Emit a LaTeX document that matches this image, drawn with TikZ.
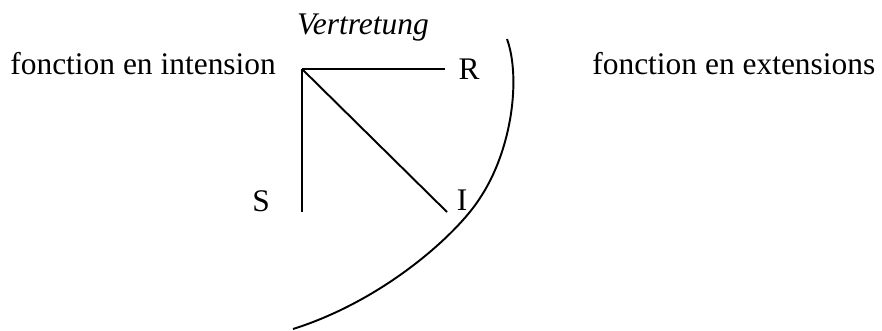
\documentclass[tikz,border=0pt]{standalone}
\usepackage{fontspec}
\setmainfont{Liberation Serif}

\tikzset{
  lbl/.style={inner sep=0pt, font=\fontsize{17.9}{21}\selectfont},
  leg/.style={line width=1.1pt},
}

\begin{document}
\begin{tikzpicture}[x=0.02cm, y=-0.02cm]
  \useasboundingbox (0,0) rectangle (882,331);

  \coordinate (v)  at (302,69);
  \coordinate (vr) at (445,69);
  \coordinate (vs) at (302,212);
  \coordinate (vi) at (447,212);

  \node[lbl, anchor=base west] (intens) at (10,75)  {fonction en intension};
  \node[lbl, anchor=base west] (extens) at (592,75) {fonction en extensions};
  \node[lbl] (vert) at (363,28)  {\itshape Vertretung};
  \node[lbl] (r)    at (469,69)  {R};
  \node[lbl] (s)    at (261,201) {S};
  \node[lbl] (i)    at (462,200) {I};

  \draw[leg] (v) -- (vr);
  \draw[leg] (v) -- (vs);
  \draw[leg] (v) -- (vi);

  % the boundary
  \coordinate (atop) at (507,39);
  \coordinate (amid) at (480,198);
  \coordinate (abot) at (293,329);
  \draw[leg] (atop) .. controls (521,78) and (512,150) .. (amid)
                    .. controls (458,233) and (385,300) .. (abot);
\end{tikzpicture}
\end{document}
